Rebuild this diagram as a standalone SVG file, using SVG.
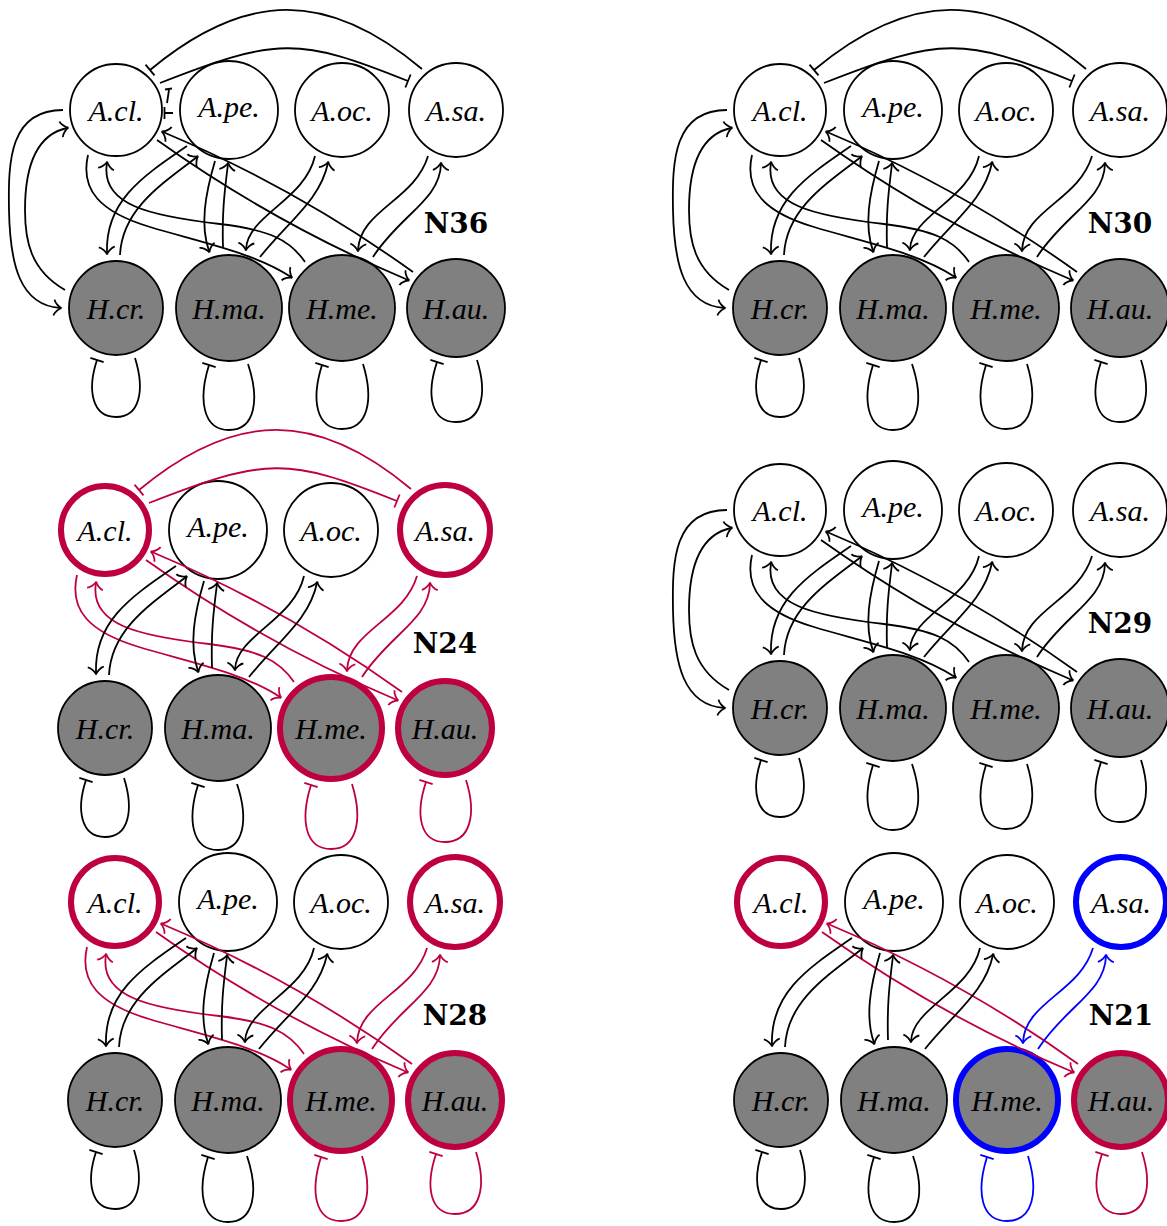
<svg xmlns="http://www.w3.org/2000/svg" width="1167" height="1226" viewBox="0 0 1167 1226">
<style>
.e{fill:none;stroke-width:1.8}
.k{stroke:#000}.r{stroke:#BE003F}.b{stroke:#0000FF}
.nt{fill:#fff;stroke:#000;stroke-width:1.8}
.nb{fill:#808080;stroke:#000;stroke-width:1.8}
.hr{stroke:#BE003F;stroke-width:6}
.hb{stroke:#0000FF;stroke-width:6}
.lbl{font-family:"Liberation Serif",serif;font-style:italic;font-size:30px;text-anchor:middle;fill:#000}
.ttl{font-family:"DejaVu Serif",serif;font-weight:bold;font-size:28px;text-anchor:middle;fill:#000}
</style>
<defs>
<marker id="ak" markerUnits="userSpaceOnUse" orient="auto" overflow="visible" viewBox="-10 -10 20 20" markerWidth="20" markerHeight="20" refX="0" refY="0"><path d="M-6,-8 C-5.5,-5 -1,-0.6 1.5,0 C-1,0.6 -5.5,5 -6,8" fill="none" stroke="#000" stroke-width="1.8"/></marker>
<marker id="ar" markerUnits="userSpaceOnUse" orient="auto" overflow="visible" viewBox="-10 -10 20 20" markerWidth="20" markerHeight="20" refX="0" refY="0"><path d="M-6,-8 C-5.5,-5 -1,-0.6 1.5,0 C-1,0.6 -5.5,5 -6,8" fill="none" stroke="#BE003F" stroke-width="1.8"/></marker>
<marker id="ab" markerUnits="userSpaceOnUse" orient="auto" overflow="visible" viewBox="-10 -10 20 20" markerWidth="20" markerHeight="20" refX="0" refY="0"><path d="M-6,-8 C-5.5,-5 -1,-0.6 1.5,0 C-1,0.6 -5.5,5 -6,8" fill="none" stroke="#0000FF" stroke-width="1.8"/></marker>
<marker id="tk" markerUnits="userSpaceOnUse" orient="auto" overflow="visible" viewBox="-10 -10 20 20" markerWidth="20" markerHeight="20" refX="0" refY="0"><path d="M0,-7 L0,7" stroke="#000" stroke-width="1.8"/></marker>
<marker id="tr" markerUnits="userSpaceOnUse" orient="auto" overflow="visible" viewBox="-10 -10 20 20" markerWidth="20" markerHeight="20" refX="0" refY="0"><path d="M0,-7 L0,7" stroke="#BE003F" stroke-width="1.8"/></marker>
<marker id="tb" markerUnits="userSpaceOnUse" orient="auto" overflow="visible" viewBox="-10 -10 20 20" markerWidth="20" markerHeight="20" refX="0" refY="0"><path d="M0,-7 L0,7" stroke="#0000FF" stroke-width="1.8"/></marker>
</defs>

<!-- Panel N36 -->
<g id="p36" transform="translate(0,0)">
<g id="p36-acl"><circle class="nt" cx="116" cy="110" r="46"/><text class="lbl" x="116" y="121">A.cl.</text></g>
<g id="p36-ape"><circle class="nt" cx="229" cy="110" r="49"/><text class="lbl" x="229" y="117">A.pe.</text></g>
<g id="p36-aoc"><circle class="nt" cx="342" cy="110" r="47"/><text class="lbl" x="342" y="121">A.oc.</text></g>
<g id="p36-asa"><circle class="nt" cx="456" cy="110" r="47"/><text class="lbl" x="456" y="121">A.sa.</text></g>
<g id="p36-hcr"><circle class="nb" cx="116" cy="308" r="47"/><text class="lbl" x="116" y="319">H.cr.</text></g>
<g id="p36-hma"><circle class="nb" cx="229" cy="308" r="53"/><text class="lbl" x="229" y="319">H.ma.</text></g>
<g id="p36-hme"><circle class="nb" cx="342" cy="308" r="53"/><text class="lbl" x="342" y="319">H.me.</text></g>
<g id="p36-hau"><circle class="nb" cx="456" cy="308" r="49"/><text class="lbl" x="456" y="319">H.au.</text></g>
<g id="p36-edges">
<path class="e k" marker-end="url(#tk)" d="M422,69 C328,-10 246,-10 150,70"/>
<path class="e k" marker-end="url(#tk)" d="M160,83 C277,37 299,37 408,81"/>
<path class="e k" d="M167,103 L169,90 M165,89.5 L172,88.5"/>
<path class="e k" d="M173,113 L164.5,113 M164.5,107 L164.5,119"/>
<path class="e k" marker-end="url(#ak)" d="M63,110 C10,110 8,160 9,210 C10,265 20,305 60,308"/>
<path class="e k" marker-end="url(#ak)" d="M65,290 C30,270 25,240 25,210 C25,170 35,135 67,128"/>
<path class="e k" marker-end="url(#ak)" d="M88,155 C80,190 100,212 150,227 S255,253 291,277"/>
<path class="e k" marker-end="url(#ak)" d="M305,262 C290,240 270,230 220,224 C150,216 100,205 107,163"/>
<path class="e k" marker-end="url(#ak)" d="M157,140 Q275,224 408,280"/>
<path class="e k" marker-end="url(#ak)" d="M413,272 Q296,188 163,132"/>
<path class="e k" marker-end="url(#ak)" d="M187,146 C145,175 105,200 107,253"/>
<path class="e k" marker-end="url(#ak)" d="M120,255 C122,210 160,185 197,157"/>
<path class="e k" marker-end="url(#ak)" d="M215,161 C205,195 200,225 209,251"/>
<path class="e k" marker-end="url(#ak)" d="M223,248 C222,215 224,195 228,164"/>
<path class="e k" marker-end="url(#ak)" d="M315,156 C305,200 248,215 246,249"/>
<path class="e k" marker-end="url(#ak)" d="M260,257 C290,220 320,200 328,163"/>
<path class="e k" marker-end="url(#ak)" d="M428,156 C415,200 360,210 358,250"/>
<path class="e k" marker-end="url(#ak)" d="M373,257 C400,215 440,200 441,164"/>
<path class="e k" marker-end="url(#tk)" d="M135,358 C145,390 140,417 116,417 C92,417 87,390 97,360"/>
<path class="e k" marker-end="url(#tk)" d="M248,364 C260,400 255,430 229,430 C203,430 198,400 209,365"/>
<path class="e k" marker-end="url(#tk)" d="M363,364 C374,400 368,429 342,429 C316,429 311,400 322,365"/>
<path class="e k" marker-end="url(#tk)" d="M477,360 C488,395 481,422 456,422 C431,422 426,395 437,362"/>
</g>
<text class="ttl" x="456" y="233">N36</text>
</g>

<!-- Panel N30 -->
<g id="p30" transform="translate(664,0)">
<g id="p30-acl"><circle class="nt" cx="116" cy="110" r="46"/><text class="lbl" x="116" y="121">A.cl.</text></g>
<g id="p30-ape"><circle class="nt" cx="229" cy="110" r="49"/><text class="lbl" x="229" y="117">A.pe.</text></g>
<g id="p30-aoc"><circle class="nt" cx="342" cy="110" r="47"/><text class="lbl" x="342" y="121">A.oc.</text></g>
<g id="p30-asa"><circle class="nt" cx="456" cy="110" r="47"/><text class="lbl" x="456" y="121">A.sa.</text></g>
<g id="p30-hcr"><circle class="nb" cx="116" cy="308" r="47"/><text class="lbl" x="116" y="319">H.cr.</text></g>
<g id="p30-hma"><circle class="nb" cx="229" cy="308" r="53"/><text class="lbl" x="229" y="319">H.ma.</text></g>
<g id="p30-hme"><circle class="nb" cx="342" cy="308" r="53"/><text class="lbl" x="342" y="319">H.me.</text></g>
<g id="p30-hau"><circle class="nb" cx="456" cy="308" r="49"/><text class="lbl" x="456" y="319">H.au.</text></g>
<g id="p30-edges">
<path class="e k" marker-end="url(#tk)" d="M422,69 C328,-10 246,-10 150,70"/>
<path class="e k" marker-end="url(#tk)" d="M160,83 C277,37 299,37 408,81"/>
<path class="e k" marker-end="url(#ak)" d="M63,110 C10,110 8,160 9,210 C10,265 20,305 60,308"/>
<path class="e k" marker-end="url(#ak)" d="M65,290 C30,270 25,240 25,210 C25,170 35,135 67,128"/>
<path class="e k" marker-end="url(#ak)" d="M88,155 C80,190 100,212 150,227 S255,253 291,277"/>
<path class="e k" marker-end="url(#ak)" d="M305,262 C290,240 270,230 220,224 C150,216 100,205 107,163"/>
<path class="e k" marker-end="url(#ak)" d="M157,140 Q275,224 408,280"/>
<path class="e k" marker-end="url(#ak)" d="M413,272 Q296,188 163,132"/>
<path class="e k" marker-end="url(#ak)" d="M187,146 C145,175 105,200 107,253"/>
<path class="e k" marker-end="url(#ak)" d="M120,255 C122,210 160,185 197,157"/>
<path class="e k" marker-end="url(#ak)" d="M215,161 C205,195 200,225 209,251"/>
<path class="e k" marker-end="url(#ak)" d="M223,248 C222,215 224,195 228,164"/>
<path class="e k" marker-end="url(#ak)" d="M315,156 C305,200 248,215 246,249"/>
<path class="e k" marker-end="url(#ak)" d="M260,257 C290,220 320,200 328,163"/>
<path class="e k" marker-end="url(#ak)" d="M428,156 C415,200 360,210 358,250"/>
<path class="e k" marker-end="url(#ak)" d="M373,257 C400,215 440,200 441,164"/>
<path class="e k" marker-end="url(#tk)" d="M135,358 C145,390 140,417 116,417 C92,417 87,390 97,360"/>
<path class="e k" marker-end="url(#tk)" d="M248,364 C260,400 255,430 229,430 C203,430 198,400 209,365"/>
<path class="e k" marker-end="url(#tk)" d="M363,364 C374,400 368,429 342,429 C316,429 311,400 322,365"/>
<path class="e k" marker-end="url(#tk)" d="M477,360 C488,395 481,422 456,422 C431,422 426,395 437,362"/>
</g>
<text class="ttl" x="456" y="233">N30</text>
</g>

<!-- Panel N24 -->
<g id="p24" transform="translate(-11,420)">
<g id="p24-acl"><circle class="nt hr" cx="116" cy="110" r="44"/><text class="lbl" x="116" y="121">A.cl.</text></g>
<g id="p24-ape"><circle class="nt" cx="229" cy="110" r="49"/><text class="lbl" x="229" y="117">A.pe.</text></g>
<g id="p24-aoc"><circle class="nt" cx="342" cy="110" r="47"/><text class="lbl" x="342" y="121">A.oc.</text></g>
<g id="p24-asa"><circle class="nt hr" cx="456" cy="110" r="45"/><text class="lbl" x="456" y="121">A.sa.</text></g>
<g id="p24-hcr"><circle class="nb" cx="116" cy="308" r="47"/><text class="lbl" x="116" y="319">H.cr.</text></g>
<g id="p24-hma"><circle class="nb" cx="229" cy="308" r="53"/><text class="lbl" x="229" y="319">H.ma.</text></g>
<g id="p24-hme"><circle class="nb hr" cx="342" cy="308" r="51"/><text class="lbl" x="342" y="319">H.me.</text></g>
<g id="p24-hau"><circle class="nb hr" cx="456" cy="308" r="47"/><text class="lbl" x="456" y="319">H.au.</text></g>
<g id="p24-edges">
<path class="e r" marker-end="url(#tr)" d="M422,69 C328,-10 246,-10 150,70"/>
<path class="e r" marker-end="url(#tr)" d="M160,83 C277,37 299,37 408,81"/>
<path class="e r" marker-end="url(#ar)" d="M88,155 C80,190 100,212 150,227 S255,253 291,277"/>
<path class="e r" marker-end="url(#ar)" d="M305,262 C290,240 270,230 220,224 C150,216 100,205 107,163"/>
<path class="e r" marker-end="url(#ar)" d="M157,140 Q275,224 408,280"/>
<path class="e r" marker-end="url(#ar)" d="M413,272 Q296,188 163,132"/>
<path class="e k" marker-end="url(#ak)" d="M187,146 C145,175 105,200 107,253"/>
<path class="e k" marker-end="url(#ak)" d="M120,255 C122,210 160,185 197,157"/>
<path class="e k" marker-end="url(#ak)" d="M215,161 C205,195 200,225 209,251"/>
<path class="e k" marker-end="url(#ak)" d="M223,248 C222,215 224,195 228,164"/>
<path class="e k" marker-end="url(#ak)" d="M315,156 C305,200 248,215 246,249"/>
<path class="e k" marker-end="url(#ak)" d="M260,257 C290,220 320,200 328,163"/>
<path class="e r" marker-end="url(#ar)" d="M428,156 C415,200 360,210 358,250"/>
<path class="e r" marker-end="url(#ar)" d="M373,257 C400,215 440,200 441,164"/>
<path class="e k" marker-end="url(#tk)" d="M135,358 C145,390 140,417 116,417 C92,417 87,390 97,360"/>
<path class="e k" marker-end="url(#tk)" d="M248,364 C260,400 255,430 229,430 C203,430 198,400 209,365"/>
<path class="e r" marker-end="url(#tr)" d="M363,364 C374,400 368,429 342,429 C316,429 311,400 322,365"/>
<path class="e r" marker-end="url(#tr)" d="M477,360 C488,395 481,422 456,422 C431,422 426,395 437,362"/>
</g>
<text class="ttl" x="456" y="233">N24</text>
</g>

<!-- Panel N29 -->
<g id="p29" transform="translate(664,400)">
<g id="p29-acl"><circle class="nt" cx="116" cy="110" r="46"/><text class="lbl" x="116" y="121">A.cl.</text></g>
<g id="p29-ape"><circle class="nt" cx="229" cy="110" r="49"/><text class="lbl" x="229" y="117">A.pe.</text></g>
<g id="p29-aoc"><circle class="nt" cx="342" cy="110" r="47"/><text class="lbl" x="342" y="121">A.oc.</text></g>
<g id="p29-asa"><circle class="nt" cx="456" cy="110" r="47"/><text class="lbl" x="456" y="121">A.sa.</text></g>
<g id="p29-hcr"><circle class="nb" cx="116" cy="308" r="47"/><text class="lbl" x="116" y="319">H.cr.</text></g>
<g id="p29-hma"><circle class="nb" cx="229" cy="308" r="53"/><text class="lbl" x="229" y="319">H.ma.</text></g>
<g id="p29-hme"><circle class="nb" cx="342" cy="308" r="53"/><text class="lbl" x="342" y="319">H.me.</text></g>
<g id="p29-hau"><circle class="nb" cx="456" cy="308" r="49"/><text class="lbl" x="456" y="319">H.au.</text></g>
<g id="p29-edges">
<path class="e k" marker-end="url(#ak)" d="M63,110 C10,110 8,160 9,210 C10,265 20,305 60,308"/>
<path class="e k" marker-end="url(#ak)" d="M65,290 C30,270 25,240 25,210 C25,170 35,135 67,128"/>
<path class="e k" marker-end="url(#ak)" d="M88,155 C80,190 100,212 150,227 S255,253 291,277"/>
<path class="e k" marker-end="url(#ak)" d="M305,262 C290,240 270,230 220,224 C150,216 100,205 107,163"/>
<path class="e k" marker-end="url(#ak)" d="M157,140 Q275,224 408,280"/>
<path class="e k" marker-end="url(#ak)" d="M413,272 Q296,188 163,132"/>
<path class="e k" marker-end="url(#ak)" d="M187,146 C145,175 105,200 107,253"/>
<path class="e k" marker-end="url(#ak)" d="M120,255 C122,210 160,185 197,157"/>
<path class="e k" marker-end="url(#ak)" d="M215,161 C205,195 200,225 209,251"/>
<path class="e k" marker-end="url(#ak)" d="M223,248 C222,215 224,195 228,164"/>
<path class="e k" marker-end="url(#ak)" d="M315,156 C305,200 248,215 246,249"/>
<path class="e k" marker-end="url(#ak)" d="M260,257 C290,220 320,200 328,163"/>
<path class="e k" marker-end="url(#ak)" d="M428,156 C415,200 360,210 358,250"/>
<path class="e k" marker-end="url(#ak)" d="M373,257 C400,215 440,200 441,164"/>
<path class="e k" marker-end="url(#tk)" d="M135,358 C145,390 140,417 116,417 C92,417 87,390 97,360"/>
<path class="e k" marker-end="url(#tk)" d="M248,364 C260,400 255,430 229,430 C203,430 198,400 209,365"/>
<path class="e k" marker-end="url(#tk)" d="M363,364 C374,400 368,429 342,429 C316,429 311,400 322,365"/>
<path class="e k" marker-end="url(#tk)" d="M477,360 C488,395 481,422 456,422 C431,422 426,395 437,362"/>
</g>
<text class="ttl" x="456" y="233">N29</text>
</g>

<!-- Panel N28 -->
<g id="p28" transform="translate(-1,792)">
<g id="p28-acl"><circle class="nt hr" cx="116" cy="110" r="44"/><text class="lbl" x="116" y="121">A.cl.</text></g>
<g id="p28-ape"><circle class="nt" cx="229" cy="110" r="49"/><text class="lbl" x="229" y="117">A.pe.</text></g>
<g id="p28-aoc"><circle class="nt" cx="342" cy="110" r="47"/><text class="lbl" x="342" y="121">A.oc.</text></g>
<g id="p28-asa"><circle class="nt hr" cx="456" cy="110" r="45"/><text class="lbl" x="456" y="121">A.sa.</text></g>
<g id="p28-hcr"><circle class="nb" cx="116" cy="308" r="47"/><text class="lbl" x="116" y="319">H.cr.</text></g>
<g id="p28-hma"><circle class="nb" cx="229" cy="308" r="53"/><text class="lbl" x="229" y="319">H.ma.</text></g>
<g id="p28-hme"><circle class="nb hr" cx="342" cy="308" r="51"/><text class="lbl" x="342" y="319">H.me.</text></g>
<g id="p28-hau"><circle class="nb hr" cx="456" cy="308" r="47"/><text class="lbl" x="456" y="319">H.au.</text></g>
<g id="p28-edges">
<path class="e r" marker-end="url(#ar)" d="M88,155 C80,190 100,212 150,227 S255,253 291,277"/>
<path class="e r" marker-end="url(#ar)" d="M305,262 C290,240 270,230 220,224 C150,216 100,205 107,163"/>
<path class="e r" marker-end="url(#ar)" d="M157,140 Q275,224 408,280"/>
<path class="e r" marker-end="url(#ar)" d="M413,272 Q296,188 163,132"/>
<path class="e k" marker-end="url(#ak)" d="M187,146 C145,175 105,200 107,253"/>
<path class="e k" marker-end="url(#ak)" d="M120,255 C122,210 160,185 197,157"/>
<path class="e k" marker-end="url(#ak)" d="M215,161 C205,195 200,225 209,251"/>
<path class="e k" marker-end="url(#ak)" d="M223,248 C222,215 224,195 228,164"/>
<path class="e k" marker-end="url(#ak)" d="M315,156 C305,200 248,215 246,249"/>
<path class="e k" marker-end="url(#ak)" d="M260,257 C290,220 320,200 328,163"/>
<path class="e r" marker-end="url(#ar)" d="M428,156 C415,200 360,210 358,250"/>
<path class="e r" marker-end="url(#ar)" d="M373,257 C400,215 440,200 441,164"/>
<path class="e k" marker-end="url(#tk)" d="M135,358 C145,390 140,417 116,417 C92,417 87,390 97,360"/>
<path class="e k" marker-end="url(#tk)" d="M248,364 C260,400 255,430 229,430 C203,430 198,400 209,365"/>
<path class="e r" marker-end="url(#tr)" d="M363,364 C374,400 368,429 342,429 C316,429 311,400 322,365"/>
<path class="e r" marker-end="url(#tr)" d="M477,360 C488,395 481,422 456,422 C431,422 426,395 437,362"/>
</g>
<text class="ttl" x="456" y="233">N28</text>
</g>

<!-- Panel N21 -->
<g id="p21" transform="translate(665,792)">
<g id="p21-acl"><circle class="nt hr" cx="116" cy="110" r="44"/><text class="lbl" x="116" y="121">A.cl.</text></g>
<g id="p21-ape"><circle class="nt" cx="229" cy="110" r="49"/><text class="lbl" x="229" y="117">A.pe.</text></g>
<g id="p21-aoc"><circle class="nt" cx="342" cy="110" r="47"/><text class="lbl" x="342" y="121">A.oc.</text></g>
<g id="p21-asa"><circle class="nt hb" cx="456" cy="110" r="45"/><text class="lbl" x="456" y="121">A.sa.</text></g>
<g id="p21-hcr"><circle class="nb" cx="116" cy="308" r="47"/><text class="lbl" x="116" y="319">H.cr.</text></g>
<g id="p21-hma"><circle class="nb" cx="229" cy="308" r="53"/><text class="lbl" x="229" y="319">H.ma.</text></g>
<g id="p21-hme"><circle class="nb hb" cx="342" cy="308" r="51"/><text class="lbl" x="342" y="319">H.me.</text></g>
<g id="p21-hau"><circle class="nb hr" cx="456" cy="308" r="47"/><text class="lbl" x="456" y="319">H.au.</text></g>
<g id="p21-edges">
<path class="e r" marker-end="url(#ar)" d="M157,140 Q275,224 408,280"/>
<path class="e r" marker-end="url(#ar)" d="M413,272 Q296,188 163,132"/>
<path class="e k" marker-end="url(#ak)" d="M187,146 C145,175 105,200 107,253"/>
<path class="e k" marker-end="url(#ak)" d="M120,255 C122,210 160,185 197,157"/>
<path class="e k" marker-end="url(#ak)" d="M215,161 C205,195 200,225 209,251"/>
<path class="e k" marker-end="url(#ak)" d="M223,248 C222,215 224,195 228,164"/>
<path class="e k" marker-end="url(#ak)" d="M315,156 C305,200 248,215 246,249"/>
<path class="e k" marker-end="url(#ak)" d="M260,257 C290,220 320,200 328,163"/>
<path class="e b" marker-end="url(#ab)" d="M428,156 C415,200 360,210 358,250"/>
<path class="e b" marker-end="url(#ab)" d="M373,257 C400,215 440,200 441,164"/>
<path class="e k" marker-end="url(#tk)" d="M135,358 C145,390 140,417 116,417 C92,417 87,390 97,360"/>
<path class="e k" marker-end="url(#tk)" d="M248,364 C260,400 255,430 229,430 C203,430 198,400 209,365"/>
<path class="e b" marker-end="url(#tb)" d="M363,364 C374,400 368,429 342,429 C316,429 311,400 322,365"/>
<path class="e r" marker-end="url(#tr)" d="M477,360 C488,395 481,422 456,422 C431,422 426,395 437,362"/>
</g>
<text class="ttl" x="456" y="233">N21</text>
</g>
</svg>
